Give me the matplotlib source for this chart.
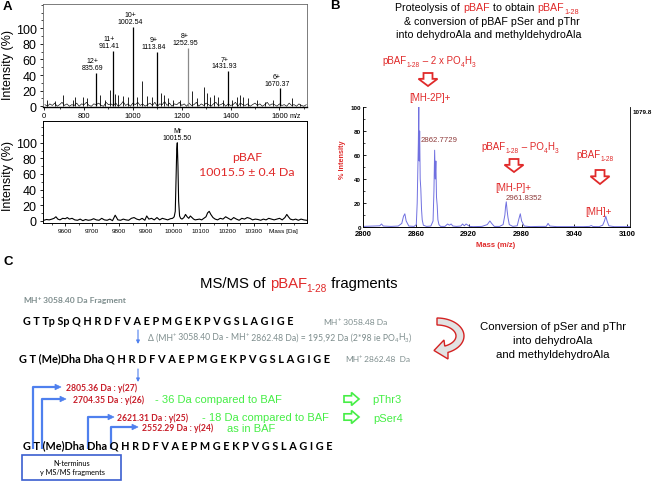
import numpy as np
import matplotlib
matplotlib.use('Agg')
import matplotlib.pyplot as plt
from matplotlib.patches import Polygon, Rectangle
from matplotlib.ticker import MultipleLocator

ARIAL = ['Liberation Sans', 'DejaVu Sans']
CAL = ['Lato', 'DejaVu Sans']
plt.rcParams['font.family'] = ARIAL
plt.rcParams['axes.linewidth'] = 0.7

# ---------------- data ----------------
# Panel A top: ESI charge-state spectrum
peak_charge = ['12+', '11+', '10+', '9+', '8+', '7+', '6+']
peak_mz_label = ['835.69', '911.41', '1002.54', '1113.84', '1252.95', '1431.93', '1670.37']
peak_pos = [849, 917, 1002, 1099, 1227, 1388, 1604]
peak_height = [43, 71, 102, 70, 75, 45, 23]
minor_pos = [647, 681, 713, 756, 763, 797, 811, 866, 886, 906,
             927, 940, 958, 981, 1018, 1039, 1057, 1077, 1114, 1128,
             1145, 1166, 1193, 1241, 1262, 1293, 1302, 1316, 1334, 1350,
             1368, 1405, 1425, 1439, 1452, 1473, 1507, 1541, 1575, 1651, 1685]
minor_height = [7.7, 6.4, 14, 7.7, 12, 12, 10, 14, 8.5, 21,
                16, 14, 13, 12, 12, 32, 13, 12, 17, 14,
                10, 8.5, 8.5, 20, 10, 25, 17, 12, 14, 12,
                8.5, 8.5, 12, 15, 12, 10, 7.7, 5.5, 7.7, 11, 3.4]
noise_start, noise_step = 640, 10
noise_height = [2, 0, 3, 1, 4, 0, 2, 5, 1, 3, 0, 2,
                1, 4, 0, 3, 2, 5, 1, 0, 3, 2, 4, 1,
                0, 5, 2, 3, 1, 4, 0, 2, 6, 1, 3, 0,
                4, 2, 5, 1, 3, 0, 2, 4, 1, 5, 0, 3,
                2, 6, 1, 4, 0, 3, 2, 5, 1, 3, 0, 4,
                1, 2, 5, 0, 3, 1, 4, 2, 0, 3, 5, 1,
                2, 4, 0, 3, 1, 2, 5, 0, 4, 2, 1, 3,
                0, 2, 4, 1, 3, 0, 2, 5, 1, 3, 2, 0,
                3, 1, 2, 0, 4, 1, 2, 0, 3, 1, 0, 2]
top_xticks = [636, 800, 1000, 1200, 1400, 1600]
top_xticklabels = ['0', '800', '1000', '1200', '1400', '1600']
a_yticks = [0, 20, 40, 60, 80, 100]

# Panel A bottom: deconvoluted mass
lo_mass = [9520, 9530, 9540, 9550, 9558, 9565, 9572, 9580, 9590, 9600,
           9607, 9615, 9625, 9635, 9645, 9655, 9665, 9675, 9685, 9695,
           9705, 9715, 9725, 9735, 9745, 9755, 9765, 9775, 9785, 9795,
           9805, 9815, 9825, 9835, 9845, 9855, 9865, 9875, 9885, 9895,
           9902, 9910, 9920, 9930, 9940, 9950, 9960, 9970, 9980, 9990,
           9998, 10004, 10008, 10011, 10013.5, 10015.5, 10018, 10020.5, 10024, 10028,
           10033, 10040, 10046, 10052, 10058, 10064, 10070, 10076, 10082, 10090,
           10098, 10106, 10114, 10122, 10128, 10134, 10140, 10148, 10156, 10165,
           10175, 10185, 10195, 10205, 10215, 10225, 10235, 10245, 10255, 10265,
           10275, 10285, 10295, 10305, 10315, 10325, 10335, 10345, 10355, 10365,
           10375, 10385, 10395, 10405, 10415, 10422, 10428, 10435, 10445, 10455,
           10465, 10475, 10485, 10495]
lo_int = [0.5, 1.5, 1, 2, 3, 5, 2, 1, 3, 2.5,
          4, 2, 3, 1, 0.5, 2, 0, 1.5, 0.5, 1,
          2.5, 1, 0.5, 3, 1, 0.5, 2, 0, 7, 1,
          0.5, 2, 1, 0.5, 3, 4, 2, 1, 3, 0.5,
          6, 2, 3, 1, 4, 1, 3, 2, 1, 2.5,
          3, 5, 12, 55, 92, 100, 70, 25, 6, 3,
          2, 4, 8, 5, 3, 6, 4, 2, 1, 1.5,
          2, 1, 3, 5, 10, 12, 8, 4, 2, 1,
          3, 2, 5, 3, 1, 4, 2, 0.5, 3, 2,
          4, 3, 1, 2, 1.5, 0.5, 2, 1, 3, 2,
          1, 2, 3, 1, 4, 8, 5, 2, 1, 2,
          0.5, 2, 1, 0.5]
lo_xticks = [9600, 9700, 9800, 9900, 10000, 10100, 10200, 10300]

# Panel B: MALDI spectrum of pBAF1-28
b_mass = [2800, 2812, 2819, 2821, 2823, 2832, 2840, 2844, 2846, 2847.5,
          2849, 2852, 2858, 2860.5, 2861.5, 2862.8, 2863.3, 2863.8, 2864.3, 2864.9,
          2865.6, 2866.4, 2867.2, 2868.5, 2872, 2877, 2879.5, 2880.5, 2881.3, 2882.0,
          2882.7, 2883.4, 2884.2, 2885.0, 2886.2, 2888, 2893, 2896, 2898, 2900,
          2902, 2906, 2911, 2913, 2915, 2917, 2919, 2921, 2925, 2935,
          2941, 2944, 2946, 2949, 2955, 2959, 2961, 2961.8, 2962.6, 2963.5,
          2964.5, 2966, 2970, 2975, 2977, 2978.5, 2980, 2983, 2990, 3000,
          3008, 3010, 3012, 3020, 3035, 3050, 3057, 3059, 3061, 3068,
          3072, 3074, 3075.5, 3077, 3079, 3085, 3095, 3103]
b_int = [0.5, 0.8, 1, 2.5, 0.8, 0.5, 0.8, 3, 9, 11,
         5, 0.8, 0.5, 2, 20, 70, 100, 55, 80, 40,
         32, 15, 6, 1.5, 0.5, 0.8, 5, 30, 64, 40,
         55, 25, 18, 6, 2, 0.5, 0.5, 2.5, 1.5, 2.5,
         0.8, 0.5, 0.8, 2.5, 1, 2.5, 1.5, 0.5, 0.3, 0.5,
         2, 5, 3, 0.5, 0.5, 2, 10, 17, 21, 14,
         8, 2, 0.5, 1, 7, 11, 5, 0.8, 0.3, 0.5,
         0.5, 3, 0.8, 0.3, 0.3, 0.3, 0.5, 1.2, 0.4, 0.3,
         1.5, 5, 9, 5, 1, 0.3, 0.3, 0.3]
b_xticks = [2800, 2860, 2920, 2980, 3040, 3100]
b_yticks = [0, 20, 40, 60, 80, 100]

# Panel C: sequences and fragments
seq1 = 'G T Tp Sp Q H R D F V A E P M G E K P V G S L A G I G E'
seq2 = 'G T (Me)Dha Dha Q H R D F V A E P M G E K P V G S L A G I G E'
frag_labels = ['2805.36 Da : y(27)', '2704.35 Da : y(26)', '2621.31 Da : y(25)', '2552.29 Da : y(24)']

# ---------------- colours ----------------
RED = '#e02a2a'
DRED = '#c81e2a'
BRN = '#8e3b3b'
GRAY = '#7f8e8e'
GREEN = '#46ee46'
BLUE = '#4f80ee'
SPEC = '#7070e0'

W, H = 653, 485
fig = plt.figure(figsize=(W / 100, H / 100), dpi=100)


def rect(l, t, r, b):
    return [l / W, 1 - b / H, (r - l) / W, (b - t) / H]


# ---------------- Panel A top ----------------
ax1 = fig.add_axes(rect(43, 5, 307, 108))
noise_x = [noise_start + noise_step * i for i in range(len(noise_height))]
ax1.plot(noise_x, noise_height, color='k', lw=0.45)
ax1.vlines(minor_pos, 0, minor_height, color='k', lw=0.6)
pcol = ['k', 'k', 'k', 'k', '#8a8a8a', 'k', 'k']
ax1.vlines(peak_pos, 0, peak_height, colors=pcol, lw=0.9)
for x, h, c, m in zip(peak_pos, peak_height, peak_charge, peak_mz_label):
    ax1.annotate(c + '\n' + m, xy=(x, h), xytext=(-2.5, 1.2), textcoords='offset points',
                 ha='center', va='bottom', fontsize=5, linespacing=0.95)
ax1.set_xlim(632, 1713)
ax1.set_ylim(-1, 131)
ax1.set_yticks(a_yticks)
ax1.yaxis.set_minor_locator(MultipleLocator(10))
ax1.set_xticks(top_xticks)
ax1.set_xticklabels(top_xticklabels)
ax1.xaxis.set_minor_locator(MultipleLocator(100))
ax1.tick_params(axis='y', labelsize=9, length=2.5, width=0.6, pad=2)
ax1.tick_params(axis='y', which='minor', length=1.5, width=0.5)
ax1.tick_params(axis='x', labelsize=5.5, length=2, width=0.6, pad=1.5)
ax1.tick_params(axis='x', which='minor', length=1.2, width=0.5)
for s in ['top', 'right', 'left']:
    ax1.spines[s].set_color('#666666')
    ax1.spines[s].set_linewidth(0.6)
ax1.spines['bottom'].set_linewidth(1.0)

# ---------------- Panel A bottom ----------------
ax2 = fig.add_axes(rect(43, 122, 307, 224))
ax2.plot(lo_mass, lo_int, color='k', lw=0.8)
ax2.annotate('Mr\n10015.50', xy=(10015.5, 100), xytext=(0, 1.5), textcoords='offset points',
             ha='center', va='bottom', fontsize=5, linespacing=0.95)
ax2.set_xlim(9517, 10497)
ax2.set_ylim(-3, 128)
ax2.set_yticks(a_yticks)
ax2.yaxis.set_minor_locator(MultipleLocator(10))
ax2.set_xticks(lo_xticks)
ax2.xaxis.set_minor_locator(MultipleLocator(50))
ax2.tick_params(axis='y', labelsize=9, length=2.5, width=0.6, pad=2)
ax2.tick_params(axis='y', which='minor', length=1.5, width=0.5)
ax2.tick_params(axis='x', labelsize=4.6, length=2, width=0.6, pad=1.5)
ax2.tick_params(axis='x', which='minor', length=1.2, width=0.5)
ax2.annotate('Mass [Da]', xy=(10411, 0), xycoords=('data', 'axes fraction'), xytext=(0, -5.5),
             textcoords='offset points', ha='center', va='center', fontsize=4.6)

# ---------------- Panel B ----------------
ax3 = fig.add_axes(rect(363, 108, 630, 228))
ax3.plot(b_mass, b_int, color=SPEC, lw=0.7)
ax3.set_xlim(2800, 3103)
ax3.set_ylim(0, 100)
ax3.set_xticks(b_xticks)
ax3.set_yticks(b_yticks)
ax3.yaxis.set_minor_locator(MultipleLocator(10))
ax3.spines['top'].set_visible(False)
ax3.spines['right'].set_linewidth(0.6)
ax3.tick_params(axis='y', direction='in', labelsize=4.5, length=2.5, width=0.6, pad=1.5)
ax3.tick_params(axis='y', which='minor', direction='in', length=1.5, width=0.5)
ax3.tick_params(axis='x', direction='in', labelsize=5.5, length=2, width=0.6, pad=2)
for lab in ax3.get_xticklabels() + ax3.get_yticklabels():
    lab.set_fontweight('bold')

# ---------------- overlay in pixel coordinates ----------------
ov = fig.add_axes([0, 0, 1, 1], zorder=10)
ov.set_xlim(0, W)
ov.set_ylim(H, 0)
ov.axis('off')
ov.patch.set_alpha(0)
R = fig.canvas.get_renderer()


def tw(s, size, family, weight):
    kw = dict(fontsize=size, family=family, weight=weight)
    t1 = ov.text(0, 0, '|' + s + '|', **kw)
    w1 = t1.get_window_extent(R).width
    t1.remove()
    t2 = ov.text(0, 0, '||', **kw)
    w2 = t2.get_window_extent(R).width
    t2.remove()
    return w1 - w2


def sub(t, c, s):
    return (t, c, s * 0.68, s * 1.389 * 0.22)


def sup(t, c, s):
    return (t, c, s * 0.68, -s * 1.389 * 0.36)


def rich(x, yc, pieces, ha='left', family=ARIAL, weight='normal', width=None):
    base = max(p[2] for p in pieces)
    ws = [tw(p[0], p[2], family, weight) for p in pieces]
    k = width / sum(ws) if width else 1.0
    sizes = [p[2] * k for p in pieces]
    ws = [tw(p[0], s, family, weight) for p, s in zip(pieces, sizes)]
    total = sum(ws)
    x0 = x - total / 2 if ha == 'center' else (x - total if ha == 'right' else x)
    yb = yc + 0.36 * base * k * 100 / 72
    for p, s, w in zip(pieces, sizes, ws):
        ov.text(x0, yb + p[3] * k, p[0], color=p[1], fontsize=s, family=family,
                weight=weight, va='baseline', ha='left')
        x0 += w


def fit_size(text, width, base, family, weight):
    return base * width / tw(text, base, family, weight)


def down_arrow(cx, y0, y1, hw=9.5, sw=4.5, color=RED):
    ym = y0 + 0.45 * (y1 - y0)
    pts = [(cx - sw, y0), (cx + sw, y0), (cx + sw, ym), (cx + hw, ym), (cx, y1),
           (cx - hw, ym), (cx - sw, ym)]
    ov.add_patch(Polygon(pts, closed=True, fc='white', ec=color, lw=1.3))


def right_arrow(x0, x1, cy, hw=6.5, sw=3.2, color=GREEN):
    xm = x0 + 0.5 * (x1 - x0)
    pts = [(x0, cy - sw), (xm, cy - sw), (xm, cy - hw), (x1, cy), (xm, cy + hw),
           (xm, cy + sw), (x0, cy + sw)]
    ov.add_patch(Polygon(pts, closed=True, fc='white', ec=color, lw=1.2))


# panel letters
for lt, x, y in [('A', 3, 7), ('B', 330, 6), ('C', 3, 262)]:
    ov.text(x, y, lt, fontsize=9.5, weight='bold', va='center', ha='left')

# Panel A labels
ov.text(8, 65, 'Intensity (%)', rotation=90, fontsize=9, ha='center', va='center')
ov.text(8, 176, 'Intensity (%)', rotation=90, fontsize=9, ha='center', va='center')
ov.text(295, 116, 'm/z', fontsize=5, ha='center', va='center')
sz = fit_size('10015.5 ± 0.4 Da', 96, 9, CAL, 'normal')
ov.text(247, 158, 'pBAF', color=RED, fontsize=sz, family=CAL, ha='center', va='center')
ov.text(247, 173, '10015.5 ± 0.4 Da', color=RED, fontsize=sz, family=CAL, ha='center', va='center')

# Panel B titles
ts = 7.7
rich(487, 7.5, [('Proteolysis of ', 'k', ts, 0), ('pBAF', RED, ts, 0), (' to obtain ', 'k', ts, 0),
                ('pBAF', RED, ts, 0), sub('1-28', RED, ts)], ha='center')
rich(492, 21, [('& conversion of pBAF pSer and pThr', 'k', ts, 0)], ha='center')
rich(489, 34.5, [('into dehydroAla and methyldehydroAla', 'k', ts, 0)], ha='center')

ls = 7
rich(429, 61, [('pBAF', RED, ls, 0), sub('1-28', RED, ls), (' – 2 x PO', RED, ls, 0),
               sub('4', RED, ls), ('H', RED, ls, 0), sub('3', RED, ls)], ha='center')
down_arrow(428, 74, 87)
ov.text(430, 98, '[MH-2P]+', color=RED, fontsize=ls, ha='center', va='center')
ov.text(421, 140.5, '2862.7729', color=BRN, fontsize=5.6, ha='left', va='center')

rich(520, 147, [('pBAF', RED, ls, 0), sub('1-28', RED, ls), (' – PO', RED, ls, 0),
                sub('4', RED, ls), ('H', RED, ls, 0), sub('3', RED, ls)], ha='center')
down_arrow(514, 160, 173)
ov.text(513, 188, '[MH-P]+', color=RED, fontsize=ls, ha='center', va='center')
ov.text(506, 199, '2961.8352', color=BRN, fontsize=5.6, ha='left', va='center')

rich(595, 155, [('pBAF', RED, ls, 0), sub('1-28', RED, ls)], ha='center')
down_arrow(600, 171, 185)
ov.text(598, 212, '[MH]+', color=RED, fontsize=ls, ha='center', va='center')

ov.text(633, 112, '1079.8', fontsize=4.5, weight='bold', ha='left', va='center')
ov.text(343, 160, '% Intensity', color=RED, fontsize=5.2, weight='bold', rotation=90,
        ha='center', va='center')
ov.text(496, 246, 'Mass (m/z)', color=RED, fontsize=5.5, weight='bold', ha='center', va='center')

# ---------------- Panel C ----------------
rich(200, 283, [('MS/MS of ', 'k', 10, 0), ('pBAF', RED, 10, 0), sub('1-28', RED, 10),
                (' fragments', 'k', 10, 0)], width=197)

gs = 6
rich(23, 300, [('MH', GRAY, gs, 0), sup('+', GRAY, gs), (' 3058.40 Da Fragment', GRAY, gs, 0)],
     family=CAL, weight='bold', width=103)

s1 = fit_size(seq1, 270, 8, CAL, 'bold')
ov.text(23, 322, seq1, fontsize=s1, family=CAL, weight='bold', ha='left', va='center')
rich(323, 322, [('MH', GRAY, gs, 0), sup('+', GRAY, gs), (' 3058.48 Da', GRAY, gs, 0)],
     family=CAL, width=64)

rich(148, 337, [('Δ (MH', GRAY, gs, 0), sup('+', GRAY, gs), (' 3058.40 Da - MH', GRAY, gs, 0),
                sup('+', GRAY, gs), (' 2862.48 Da) = 195,92 Da (2*98 ie PO', GRAY, gs, 0),
                sub('4', GRAY, gs), ('H', GRAY, gs, 0), sub('3', GRAY, gs), (')', GRAY, gs, 0)],
     family=CAL, width=263)

s2 = fit_size(seq2, 313, 8, CAL, 'bold')
ov.text(19, 359, seq2, fontsize=s2, family=CAL, weight='bold', ha='left', va='center')
rich(345, 359, [('MH', GRAY, gs, 0), sup('+', GRAY, gs), (' 2862.48  Da', GRAY, gs, 0)],
     family=CAL, width=66)

# thin blue arrows
for y0, y1 in [(331, 345), (370, 383)]:
    ov.annotate('', xy=(138, y1), xytext=(138, y0),
                arrowprops=dict(arrowstyle='-|>', color=BLUE, lw=0.8, mutation_scale=5,
                                shrinkA=0, shrinkB=0))

# curved red arrow
cx, cy = 437, 337
th = np.radians(np.linspace(90, -66, 40))
outer = [(cx + 27 * np.cos(t), cy - 18 * np.sin(t)) for t in th]
inner = [(cx + 19 * np.cos(t), cy - 11 * np.sin(t)) for t in th[::-1]]
head = [(448, 360), (434, 351.5), (444, 341)]
ov.add_patch(Polygon(outer + head + inner, closed=True, fc='#e2e2e2', ec='#d42222', lw=1.0))

ov.text(553, 327, 'Conversion of pSer and pThr', fontsize=8.2, ha='center', va='center')
ov.text(553, 341, 'into dehydroAla', fontsize=8.2, ha='center', va='center')
ov.text(553, 355, 'and methyldehydroAla', fontsize=8.2, ha='center', va='center')

# fragment labels
fs = fit_size(frag_labels[0], 71, 6, CAL, 'bold')
for lab, x, y in zip(frag_labels, [66, 73, 117, 142], [388, 400, 418, 428]):
    ov.text(x, y, lab, color=DRED, fontsize=fs, family=CAL, weight='bold', ha='left', va='center')

ov.text(155, 400, '- 36 Da compared to BAF', color=GREEN, fontsize=8, ha='left', va='center')
ov.text(202, 418, '- 18 Da compared to BAF', color=GREEN, fontsize=8, ha='left', va='center')
ov.text(227, 429, 'as in BAF', color=GREEN, fontsize=8, ha='left', va='center')
right_arrow(344, 359, 400)
right_arrow(344, 359, 418)
ov.text(372, 400, 'pThr3', color=GREEN, fontsize=8, ha='left', va='center')
ov.text(373, 419, 'pSer4', color=GREEN, fontsize=8, ha='left', va='center')

# connectors
for xv, yh, xe in [(33, 388, 61), (42, 400, 66), (88, 418, 114), (111, 428, 138)]:
    ov.plot([xv, xv, xe - 4], [450, yh, yh], color=BLUE, lw=1.6, solid_capstyle='butt')
    ov.add_patch(Polygon([(xe - 6, yh - 2.8), (xe, yh), (xe - 6, yh + 2.8)], closed=True,
                         fc=BLUE, ec=BLUE, lw=0.5))

s3 = fit_size(seq2, 310, 8, CAL, 'bold')
ov.text(23, 446, seq2, fontsize=s3, family=CAL, weight='bold', ha='left', va='center', zorder=5)

ov.add_patch(Rectangle((22, 456), 99, 25, fc='white', ec='#3b5fd0', lw=1.2))
ov.text(72, 464, 'N-terminus', fontsize=5.3, family=CAL, ha='center', va='center')
ov.text(72, 473, 'y MS/MS fragments', fontsize=5.3, family=CAL, ha='center', va='center')

fig.savefig('out.png', dpi=100)
